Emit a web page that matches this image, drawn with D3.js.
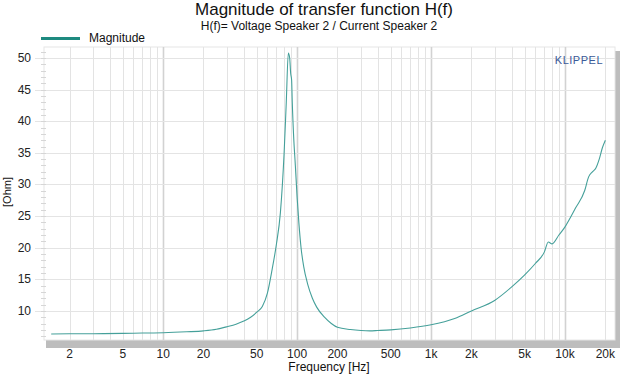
<!DOCTYPE html>
<html>
<head>
<meta charset="utf-8">
<script src="https://cdn.jsdelivr.net/npm/d3@7"></script>
<style>
  body { margin: 0; background: #fff; }
  text { font-family: "Liberation Sans", Arial, sans-serif; }
</style>
</head>
<body>
<svg id="chart"></svg>
<script>
// frequency [Hz] and impedance magnitude [Ohm]
const freqs = [1.46, 2, 3, 5, 7, 10, 15, 20, 25, 30, 35, 40, 45, 50, 55, 60, 65, 70, 75, 80, 83, 86, 88, 89.5, 91, 92, 94, 97, 100, 103, 107, 112, 120, 130, 140, 160, 180, 200, 250, 300, 350, 400, 500, 700, 1000, 1500, 2000, 3000, 4000, 5000, 6000, 7000, 7500, 8000, 9000, 10000, 12000, 14000, 15000, 16000, 17000, 18000, 19000, 20000];
const magnitude = [6.35, 6.38, 6.4, 6.45, 6.5, 6.55, 6.7, 6.85, 7.1, 7.5, 7.9, 8.4, 9.0, 9.8, 10.7, 12.8, 16.5, 20.5, 25.5, 35, 43, 50.8, 50, 47.6, 46.5, 43, 38, 33, 28, 24, 20, 17, 14.2, 12, 10.6, 9.0, 8.0, 7.4, 7.05, 6.9, 6.85, 6.9, 7.0, 7.3, 7.8, 8.8, 10.0, 11.7, 13.8, 15.7, 17.5, 19.3, 20.9, 20.6, 22.0, 23.3, 26.3, 29.0, 31.2, 32.0, 32.6, 34.0, 35.8, 37.0];

const xTickValues = [2, 5, 10, 20, 50, 100, 200, 500, 1000, 2000, 5000, 10000, 20000];
const xTickLabels = ["2", "5", "10", "20", "50", "100", "200", "500", "1k", "2k", "5k", "10k", "20k"];
const yTickValues = [10, 15, 20, 25, 30, 35, 40, 45, 50];

const width = 642, height = 376;
const plot = { left: 44, right: 615, top: 47, bottom: 340 };

const svg = d3.select('#chart')
    .attr('width', width)
    .attr('height', height);

const xScale = d3.scaleLog()
    .domain([1.29, 23600])
    .range([plot.left, plot.right]);

const yScale = d3.scaleLinear()
    .domain([5.4, 51.74])
    .range([plot.bottom, plot.top]);

// drop shadow behind the plot area
svg.append('rect')
    .attr('x', plot.left + 2)
    .attr('y', plot.top + 4)
    .attr('width', plot.right - plot.left + 3)
    .attr('height', plot.bottom - plot.top + 4)
    .attr('fill', '#bdbdbd');

svg.append('rect')
    .attr('x', plot.left)
    .attr('y', plot.top)
    .attr('width', plot.right - plot.left)
    .attr('height', plot.bottom - plot.top)
    .attr('fill', '#fff')
    .attr('stroke', '#e6e6e6');

// vertical grid: every 1..9 of each decade, decades a bit darker
const gridF = [];
for (let dec = 1; dec <= 10000; dec *= 10) {
    for (let m = 1; m <= 9; m++) {
        const f = m * dec;
        if (f > 1.29 && f < 23600) gridF.push(f);
    }
}
const isDecade = d => Math.abs(Math.log10(d) % 1) < 1e-9;
svg.append('g').selectAll('line')
    .data(gridF)
    .join('line')
    .attr('x1', d => Math.round(xScale(d)) + 0.5)
    .attr('x2', d => Math.round(xScale(d)) + 0.5)
    .attr('y1', plot.top)
    .attr('y2', plot.bottom)
    .attr('stroke', d => isDecade(d) ? '#d2d2d2' : '#e3e3e3')
    .attr('stroke-width', d => isDecade(d) ? 1.6 : 1);

// horizontal grid
svg.append('g').selectAll('line')
    .data(yTickValues)
    .join('line')
    .attr('x1', plot.left - 9)
    .attr('x2', plot.right)
    .attr('y1', d => Math.round(yScale(d)) + 0.5)
    .attr('y2', d => Math.round(yScale(d)) + 0.5)
    .attr('stroke', '#e4e4e4');

// minor y ticks every 1 Ohm
svg.append('g').selectAll('line')
    .data(d3.range(6, 52))
    .join('line')
    .attr('x1', plot.left - 3)
    .attr('x2', plot.left + 2)
    .attr('y1', d => Math.round(yScale(d)) + 0.5)
    .attr('y2', d => Math.round(yScale(d)) + 0.5)
    .attr('stroke', '#d6d6d6');

// y labels
svg.append('g').selectAll('text')
    .data(yTickValues)
    .join('text')
    .attr('x', 31)
    .attr('y', d => yScale(d) + 4)
    .attr('text-anchor', 'end')
    .attr('font-size', 12)
    .attr('fill', '#222')
    .text(d => d);

// x labels
svg.append('g').selectAll('text')
    .data(xTickValues)
    .join('text')
    .attr('x', d => xScale(d))
    .attr('y', 358)
    .attr('text-anchor', 'middle')
    .attr('font-size', 12)
    .attr('fill', '#222')
    .text((d, i) => xTickLabels[i]);

// curve
const data = freqs.map((f, i) => ({ f: f, v: magnitude[i] }));
const line = d3.line()
    .x(d => xScale(d.f))
    .y(d => yScale(d.v))
    .curve(d3.curveMonotoneX);

svg.append('path')
    .datum(data)
    .attr('fill', 'none')
    .attr('stroke', '#45a09a')
    .attr('stroke-width', 1.1)
    .attr('d', line);

// titles
svg.append('text')
    .attr('x', 324).attr('y', 15)
    .attr('text-anchor', 'middle')
    .attr('font-size', 17)
    .attr('fill', '#111')
    .text('Magnitude of transfer function H(f)');

svg.append('text')
    .attr('x', 319).attr('y', 30)
    .attr('text-anchor', 'middle')
    .attr('font-size', 12)
    .attr('fill', '#111')
    .text('H(f)= Voltage Speaker 2 / Current Speaker 2');

// legend
svg.append('line')
    .attr('x1', 41).attr('x2', 80)
    .attr('y1', 38.5).attr('y2', 38.5)
    .attr('stroke', '#1e8a80')
    .attr('stroke-width', 3);

svg.append('text')
    .attr('x', 89).attr('y', 42)
    .attr('font-size', 12)
    .attr('fill', '#111')
    .text('Magnitude');

svg.append('text')
    .attr('x', 603).attr('y', 64)
    .attr('text-anchor', 'end')
    .attr('font-size', 11)
    .attr('letter-spacing', 0.5)
    .attr('fill', '#3b5998')
    .text('KLIPPEL');

// axis titles
svg.append('text')
    .attr('x', 329).attr('y', 371)
    .attr('text-anchor', 'middle')
    .attr('font-size', 12)
    .attr('fill', '#111')
    .text('Frequency [Hz]');

svg.append('text')
    .attr('transform', 'translate(11,192) rotate(-90)')
    .attr('text-anchor', 'middle')
    .attr('font-size', 11)
    .attr('fill', '#111')
    .text('[Ohm]');
</script>
</body>
</html>
